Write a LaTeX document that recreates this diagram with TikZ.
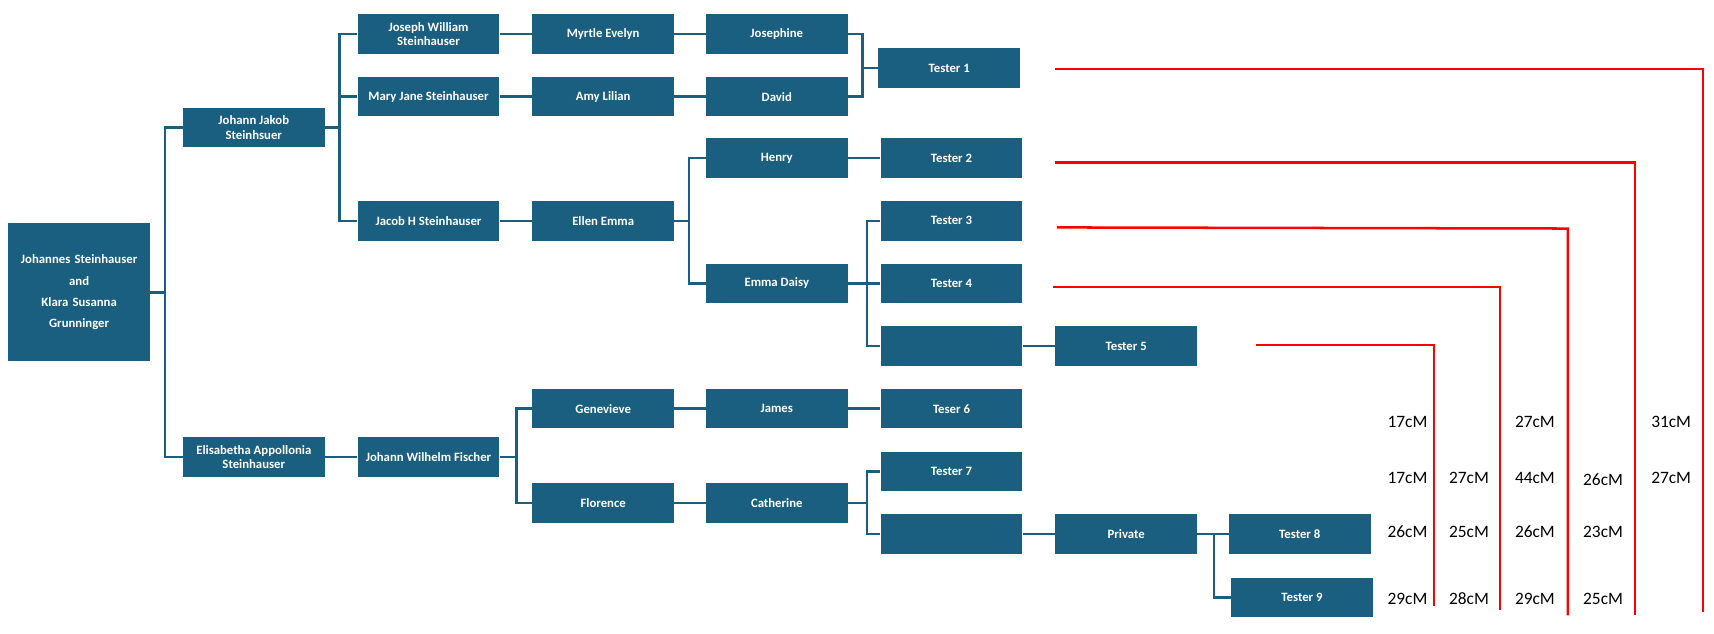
\documentclass[tikz,border=0pt]{standalone}
\usepackage{fontspec}
\setmainfont{Carlito}
\begin{document}
\begin{tikzpicture}[x=0.02cm,y=-0.02cm,
  box/.style={fill=tblue,text=white,font=\bfseries\fontsize{6.6}{7.6}\selectfont,align=center,inner sep=0pt,minimum width=129*0.02cm,minimum height=36*0.02cm},
  conn/.style={draw=tblue,line width=1.3pt},
  redl/.style={draw=red,line width=1.3pt},
  cmlab/.style={font=\fontsize{9}{11}\selectfont}]
\definecolor{tblue}{HTML}{1A5E80}
\useasboundingbox (0,0) rectangle (1560,577);
\node[box,minimum height=126*0.02cm,text width=120*0.02cm,font=\bfseries\fontsize{6.6}{11}\selectfont] (root) at (72,266) {Johannes Steinhauser\\and\\Klara Susanna\\Grunninger};
\node[box] (jj) at (231,116) {Johann Jakob\\Steinhsuer};
\node[box] (ea) at (231,416) {Elisabetha Appollonia\\Steinhauser};
\node[box] (jw) at (390,31) {Joseph William\\Steinhauser};
\node[box] (mj) at (390,88) {Mary Jane Steinhauser};
\node[box] (jh) at (390,201) {Jacob H Steinhauser};
\node[box] (jwf) at (390,416) {Johann Wilhelm Fischer};
\node[box] (me) at (549,31) {Myrtle Evelyn};
\node[box] (al) at (549,88) {Amy Lilian};
\node[box] (ee) at (549,201) {Ellen Emma};
\node[box] (ge) at (549,372) {Genevieve};
\node[box] (fl) at (549,458) {Florence};
\node[box] (jo) at (707,31) {Josephine};
\node[box] (da) at (707,88) {David};
\node[box] (he) at (707,144) {Henry};
\node[box] (ed) at (707,258) {Emma Daisy};
\node[box] (ja) at (707,372) {James};
\node[box] (ca) at (707,458) {Catherine};
\node[box] (t1) at (864,62) {Tester 1};
\node[box] (t2) at (866,144) {Tester 2};
\node[box] (t3) at (866,201) {Tester 3};
\node[box] (t4) at (866,258) {Tester 4};
\node[box] (b1) at (866,315) {};
\node[box] (t6) at (866,372) {Teser 6};
\node[box] (t7) at (866,429) {Tester 7};
\node[box] (b2) at (866,486) {};
\node[box] (t5) at (1025,315) {Tester 5};
\node[box] (pr) at (1025,486) {Private};
\node[box] (t8) at (1183,486) {Tester 8};
\node[box] (t9) at (1185,544) {Tester 9};
% connectors
\draw[conn] (root.east) -- (150,266);
\draw[conn] (jj.west) -| (150,416) -- (ea.west);
\draw[conn] (jj.east) -- (309,116);
\draw[conn] (jw.west) -| (309,201) -- (jh.west);
\draw[conn] (mj.west) -- (309,88);
\draw[conn] (jw) -- (me) -- (jo);
\draw[conn] (mj) -- (al) -- (da);
\draw[conn] (jh) -- (ee);
\draw[conn] (jo.east) -| (785,88) -- (da.east);
\draw[conn] (785,62) -- (t1.west);
\draw[conn] (ee.east) -- (627,201);
\draw[conn] (he.west) -| (627,258) -- (ed.west);
\draw[conn] (he) -- (t2);
\draw[conn] (ed.east) -- (789,258);
\draw[conn] (t3.west) -| (789,315) -- (b1.west);
\draw[conn] (789,258) -- (t4.west);
\draw[conn] (b1) -- (t5);
\draw[conn] (ea) -- (jwf);
\draw[conn] (jwf.east) -- (470,416);
\draw[conn] (ge.west) -| (470,458) -- (fl.west);
\draw[conn] (ge) -- (ja) -- (t6);
\draw[conn] (fl) -- (ca);
\draw[conn] (ca.east) -- (789,458);
\draw[conn] (t7.west) -| (789,486) -- (b2.west);
\draw[conn] (b2) -- (pr);
\draw[conn] (pr.east) -- (1105,486);
\draw[conn] (t8.west) -- (1097,486);
\draw[conn] (1105,486) |- (t9.west);
% red lines
\coordinate (r1) at (960,63); \coordinate (r2) at (960,148);
\coordinate (r3) at (962,207); \coordinate (r4) at (958,261);
\coordinate (r5) at (1143,314);
\draw[redl] (r1) -- (1550,63) -- (1550,557);
\draw[redl] (r2) -- (1488,148) -- (1488,560);
\draw[redl] (r3) -- (1427,208) -- (1427,560);
\draw[redl] (r4) -- (1365,261) -- (1365,555);
\draw[redl] (r5) -- (1305,314) -- (1305,552);
% cM labels
\node[cmlab] (a1) at (1281,384) {17cM};
\node[cmlab] (a2) at (1281,435) {17cM};
\node[cmlab] (a3) at (1281,484) {26cM};
\node[cmlab] (a4) at (1281,545) {29cM};
\node[cmlab] (b2l) at (1337,435) {27cM};
\node[cmlab] (b3) at (1337,484) {25cM};
\node[cmlab] (b4) at (1337,545) {28cM};
\node[cmlab] (c1) at (1397,384) {27cM};
\node[cmlab] (c2) at (1397,435) {44cM};
\node[cmlab] (c3) at (1397,484) {26cM};
\node[cmlab] (c4) at (1397,545) {29cM};
\node[cmlab] (d2) at (1459,437) {26cM};
\node[cmlab] (d3) at (1459,484) {23cM};
\node[cmlab] (d4) at (1459,545) {25cM};
\node[cmlab] (e1) at (1521,384) {31cM};
\node[cmlab] (e2) at (1521,435) {27cM};
\end{tikzpicture}
\end{document}
